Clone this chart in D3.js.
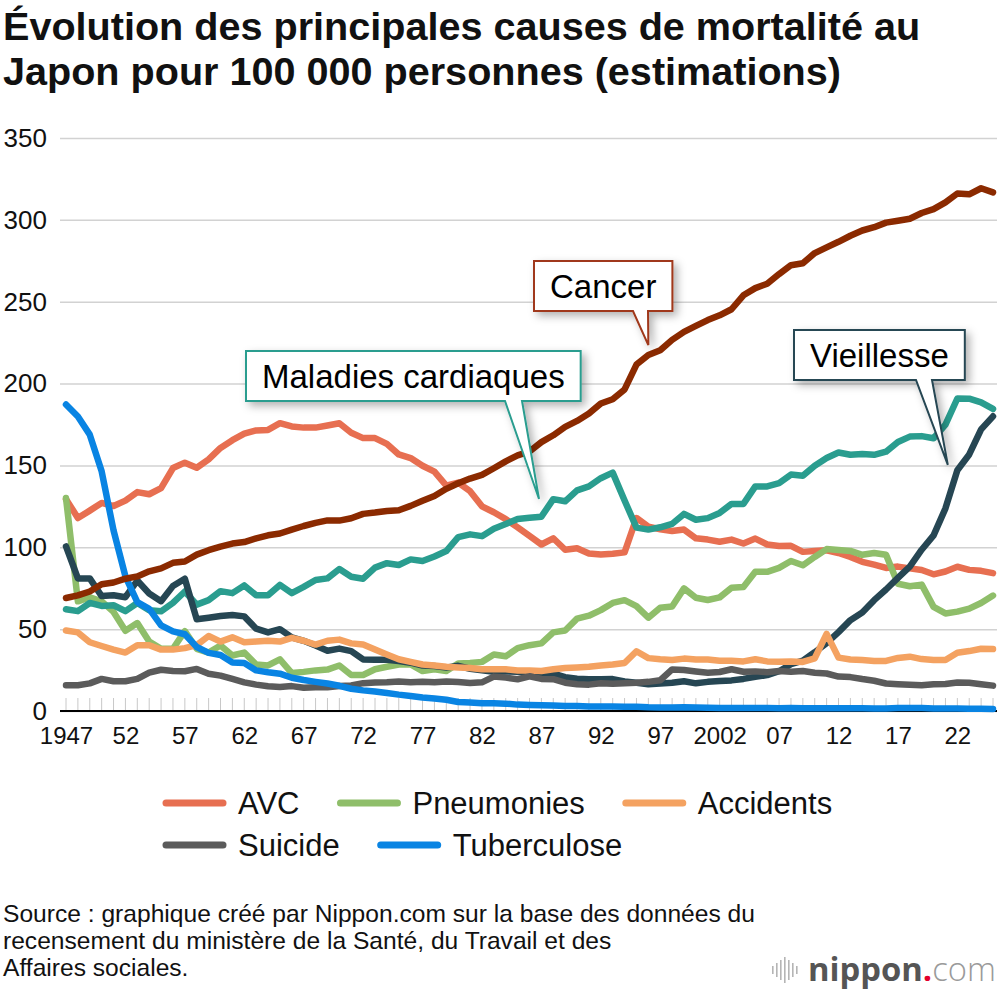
<!DOCTYPE html>
<html>
<head>
<meta charset="utf-8">
<script src="https://cdn.jsdelivr.net/npm/d3@7/dist/d3.min.js"></script>
<style>
  body { margin: 0; background: #fff; }
  svg { font-family: "Liberation Sans", Arial, Helvetica, sans-serif; }
</style>
</head>
<body>
<svg width="1000" height="990"></svg>
<script>
// data: rate per 100 000 people, 1947 -> 2025 (last year = estimate)
const years = d3.range(1947, 2026);

const cancer = [69.0, 70.6, 73.0, 77.4, 78.5, 80.8, 82.2, 85.3, 87.1, 90.5,
  91.3, 95.5, 98.2, 100.4, 102.3, 103.2, 105.5, 107.3, 108.4, 110.8,
  113.0, 114.9, 116.4, 116.3, 117.7, 120.4, 121.2, 122.2, 122.6, 125.3,
  128.4, 131.3, 135.7, 139.1, 142.0, 144.2, 148.3, 152.5, 156.1, 158.5,
  164.2, 168.4, 173.6, 177.2, 181.7, 187.8, 190.4, 196.4, 211.6, 217.5,
  220.4, 226.7, 231.6, 235.2, 238.8, 241.7, 245.4, 253.9, 258.3, 261.0,
  266.9, 272.3, 273.5, 279.7, 283.2, 286.6, 290.3, 293.5, 295.5, 298.3,
  299.5, 300.7, 304.2, 306.6, 310.7, 316.1, 315.6, 319.3, 316.8];

const heart = [62.2, 61.0, 66.0, 64.2, 64.6, 61.0, 66.0, 61.6, 60.9, 66.0,
  73.0, 65.0, 67.7, 73.2, 72.0, 76.7, 70.7, 70.7, 77.0, 72.0,
  75.8, 80.0, 81.0, 86.7, 82.0, 80.8, 87.6, 90.3, 89.2, 92.6,
  91.6, 94.4, 97.7, 106.2, 107.9, 106.8, 111.3, 114.2, 117.3, 118.0,
  118.7, 129.4, 128.1, 134.8, 137.2, 142.2, 145.6, 128.6, 112.0, 110.8,
  112.2, 114.3, 120.4, 116.8, 117.8, 121.0, 126.5, 126.5, 137.2, 137.2,
  139.2, 144.4, 143.7, 149.8, 154.5, 157.9, 156.5, 157.0, 156.5, 158.4,
  164.3, 167.6, 167.9, 166.6, 174.9, 190.9, 190.8, 188.5, 184.5];

const oldAge = [100.5, 81.0, 81.0, 70.2, 70.7, 69.5, 79.7, 71.8, 67.1, 76.3,
  80.8, 56.0, 57.0, 58.0, 58.7, 57.8, 50.3, 48.0, 50.0, 45.0,
  42.9, 40.0, 36.8, 38.1, 36.6, 31.5, 31.3, 31.3, 30.5, 29.5,
  27.8, 27.5, 26.5, 27.6, 25.8, 24.9, 24.0, 24.1, 24.0, 23.5,
  22.0, 22.8, 20.7, 19.7, 19.4, 19.4, 19.5, 18.0, 17.2, 16.4,
  16.8, 17.2, 18.2, 16.9, 17.8, 18.3, 18.7, 19.6, 20.9, 21.9,
  24.3, 28.6, 30.7, 35.9, 41.4, 48.2, 55.5, 60.1, 67.7, 74.2,
  81.3, 88.2, 98.5, 107.3, 123.8, 147.1, 156.7, 172.0, 180.0];

const avc = [129.4, 117.9, 122.4, 127.1, 125.2, 128.5, 133.7, 132.4, 136.1, 148.4,
  151.7, 148.6, 153.7, 160.7, 165.4, 169.4, 171.4, 171.7, 175.8, 173.8,
  173.1, 173.1, 174.4, 175.8, 170.0, 166.7, 166.7, 163.2, 156.7, 154.5,
  149.8, 146.2, 137.7, 139.5, 134.3, 125.0, 121.4, 117.2, 112.2, 106.9,
  101.7, 105.5, 98.5, 99.4, 96.2, 95.6, 96.0, 96.9, 117.9, 112.6,
  111.0, 110.0, 110.8, 105.5, 104.7, 103.4, 104.7, 102.3, 105.3, 101.7,
  100.8, 100.9, 97.2, 97.7, 98.2, 96.5, 94.1, 91.1, 89.4, 87.4,
  88.2, 87.1, 86.1, 83.5, 85.2, 88.1, 86.2, 85.6, 84.2];

const pneumonia = [130.1, 67.0, 69.5, 67.0, 60.5, 49.0, 53.7, 42.4, 38.0, 38.0,
  48.8, 38.0, 35.7, 40.0, 33.9, 35.7, 28.4, 27.8, 31.6, 23.2,
  23.9, 24.8, 25.3, 27.8, 22.0, 22.0, 25.5, 27.0, 28.4, 28.4,
  24.4, 25.5, 24.4, 29.0, 29.3, 30.0, 34.5, 33.4, 38.4, 40.2,
  41.3, 48.0, 49.2, 56.4, 58.2, 61.6, 66.0, 67.7, 64.1, 57.0,
  63.1, 63.8, 74.9, 69.2, 67.8, 69.4, 75.3, 75.7, 85.0, 85.0,
  87.4, 91.6, 89.0, 94.1, 98.9, 98.4, 97.8, 95.4, 96.5, 95.4,
  77.7, 76.2, 77.2, 63.6, 59.6, 60.7, 62.5, 66.0, 70.5];

const accidents = [49.2, 48.0, 42.0, 39.7, 37.5, 35.7, 40.2, 40.2, 37.5, 37.5,
  38.4, 40.2, 45.8, 42.4, 45.0, 42.0, 42.4, 42.9, 42.4, 44.7,
  42.9, 40.6, 42.9, 43.6, 41.3, 40.6, 37.5, 34.5, 31.6, 30.0,
  28.4, 27.8, 27.0, 26.6, 26.2, 25.5, 25.5, 25.5, 24.8, 24.8,
  24.4, 25.5, 26.2, 26.6, 27.0, 27.8, 28.4, 29.3, 36.5, 32.3,
  31.6, 31.1, 32.0, 31.4, 31.4, 30.7, 30.7, 30.3, 31.6, 30.3,
  30.1, 30.3, 30.0, 32.2, 47.1, 32.6, 31.5, 31.1, 30.6, 30.6,
  32.4, 33.2, 31.7, 31.2, 31.2, 35.6, 36.6, 38.0, 37.8];

const suicide = [15.7, 15.7, 16.9, 19.6, 18.2, 18.2, 19.6, 23.4, 25.2, 24.5,
  24.3, 25.7, 22.7, 21.6, 19.6, 17.5, 16.1, 15.1, 14.7, 15.2,
  14.2, 14.5, 14.5, 15.3, 15.6, 17.0, 17.4, 17.5, 18.0, 17.6,
  17.9, 17.6, 18.0, 17.7, 17.1, 17.5, 21.0, 20.4, 19.4, 21.2,
  19.6, 19.4, 17.3, 16.4, 16.1, 16.9, 16.6, 16.9, 17.2, 17.8,
  18.8, 25.4, 25.0, 24.1, 23.3, 23.8, 25.5, 24.0, 24.2, 23.7,
  24.4, 24.0, 24.4, 23.4, 22.9, 21.0, 20.7, 19.5, 18.5, 16.8,
  16.4, 16.1, 15.7, 16.4, 16.5, 17.4, 17.3, 16.4, 15.5];

const tuberculosis = [187.2, 179.9, 168.8, 146.4, 110.3, 82.2, 66.5, 62.4, 52.3, 48.6,
  46.9, 39.1, 35.5, 34.2, 29.6, 29.3, 24.8, 23.7, 22.8, 20.3,
  18.9, 17.8, 16.8, 15.4, 13.6, 12.6, 11.9, 11.0, 10.0, 9.2,
  8.3, 7.6, 6.9, 5.5, 5.2, 4.8, 4.7, 4.5, 3.9, 3.7,
  3.5, 3.3, 3.1, 3.0, 2.8, 2.8, 2.7, 2.6, 2.6, 2.3,
  2.2, 2.2, 2.3, 2.1, 2.0, 1.8, 1.9, 1.8, 1.8, 1.8,
  1.7, 1.8, 1.7, 1.7, 1.7, 1.7, 1.7, 1.7, 1.5, 1.5,
  1.8, 1.8, 1.8, 1.5, 1.5, 1.5, 1.3, 1.3, 1.2];

// axis labels
const xTickYears = [1947, 1952, 1957, 1962, 1967, 1972, 1977, 1982, 1987, 1992, 1997, 2002, 2007, 2012, 2017, 2022];
const yTicks = [0, 50, 100, 150, 200, 250, 300, 350];

// series table (draw order = back to front)
const series = [
  { name: 'AVC', values: avc, color: '#e76f51' },
  { name: 'Pneumonies', values: pneumonia, color: '#8fbe6a' },
  { name: 'Maladies cardiaques', values: heart, color: '#2a9d8f' },
  { name: 'Vieillesse', values: oldAge, color: '#264653' },
  { name: 'Accidents', values: accidents, color: '#f4a261' },
  { name: 'Suicide', values: suicide, color: '#5b5b5b' },
  { name: 'Tuberculose', values: tuberculosis, color: '#0984e3' },
  { name: 'Cancer', values: cancer, color: '#8b2a00' }
];

const legendRows = [['AVC', 'Pneumonies', 'Accidents'], ['Suicide', 'Tuberculose']];

// callouts: tip given in data units, box in pixels
const callouts = [
  { label: 'Cancer', color: '#a0381a', year: 1996.0, value: 223.5, x0: 534, y0: 261, base: [633, 648] },
  { label: 'Maladies cardiaques', color: '#2a9d8f', year: 1986.8, value: 129.5, x0: 246, y0: 351, base: [505, 522] },
  { label: 'Vieillesse', color: '#264653', year: 2021.2, value: 150.3, x0: 794, y0: 330, base: [916, 932] }
];

const svg = d3.select('svg');
const colorOf = name => series.find(s => s.name === name).color;

// scales
const xScale = d3.scaleLinear().domain([1947, 2025]).range([66, 993]);
const yScale = d3.scaleLinear().domain([0, 350]).range([711, 138]);

// shadow for callout boxes
const defs = svg.append('defs');
defs.append('filter')
    .attr('id', 'shadow')
    .attr('x', '-10%').attr('y', '-20%').attr('width', '130%').attr('height', '160%')
  .append('feDropShadow')
    .attr('dx', 4).attr('dy', 4).attr('stdDeviation', 4)
    .attr('flood-color', '#000').attr('flood-opacity', 0.3);

// TITLE
const titleLines = ['Évolution des principales causes de mortalité au', 'Japon pour 100 000 personnes (estimations)'];
svg.append('g')
  .selectAll('text')
  .data(titleLines)
  .enter()
  .append('text')
    .attr('x', 3)
    .attr('y', (d, i) => 40 + i * 45)
    .attr('font-size', 39.6)
    .attr('font-weight', 700)
    .attr('fill', '#111')
    .text(d => d);

// y grid + labels
const yAxis = d3.axisLeft(yScale)
    .tickValues(yTicks)
    .tickSize(-937)
    .tickPadding(14);

const gy = svg.append('g')
    .attr('transform', 'translate(60,0)')
    .call(yAxis);
gy.select('.domain').remove();
gy.selectAll('.tick line').attr('stroke', '#d2d2d2').attr('stroke-width', 1.5);
gy.selectAll('.tick text')
    .attr('fill', '#111')
    .attr('font-size', 26)
    .attr('x', -13)
    .attr('font-family', '"Liberation Sans", Arial, sans-serif');

// yearly tick marks
svg.append('g')
  .selectAll('line')
  .data(years)
  .enter()
  .append('line')
    .attr('x1', d => xScale(d)).attr('x2', d => xScale(d))
    .attr('y1', yScale(0) - 13).attr('y2', yScale(0))
    .attr('stroke', '#c8c8c8').attr('stroke-width', 1);

// x axis
const xAxis = d3.axisBottom(xScale)
    .tickValues(xTickYears)
    .tickSize(0)
    .tickPadding(16)
    .tickFormat(d => (d === 1947 || d === 2002) ? String(d) : String(d).slice(2));

const gx = svg.append('g')
    .attr('transform', `translate(0,${yScale(0)})`)
    .call(xAxis);
gx.select('.domain').remove();
gx.selectAll('.tick text')
    .attr('fill', '#111')
    .attr('font-size', 24)
    .attr('font-family', '"Liberation Sans", Arial, sans-serif');

svg.append('line')
    .attr('x1', 60).attr('x2', 997)
    .attr('y1', yScale(0)).attr('y2', yScale(0))
    .attr('stroke', '#000').attr('stroke-width', 2);

// LINES
const line = d3.line()
    .x((d, i) => xScale(years[i]))
    .y(d => yScale(d));

svg.append('g')
  .selectAll('path')
  .data(series)
  .enter()
  .append('path')
    .attr('d', d => line(d.values))
    .attr('fill', 'none')
    .attr('stroke', d => d.color)
    .attr('stroke-width', 6.5)
    .attr('stroke-linejoin', 'round')
    .attr('stroke-linecap', 'round');

// CALLOUTS
callouts.forEach(c => {
  const g = svg.append('g');
  const txt = g.append('text')
      .attr('font-size', 33)
      .attr('fill', '#000')
      .text(c.label);
  const w = txt.node().getComputedTextLength() + 32;
  const h = 50;
  const x1 = c.x0 + w, y1 = c.y0 + h;
  const tx = xScale(c.year), ty = yScale(c.value);
  const p = `M${c.x0},${c.y0}H${x1}V${y1}H${c.base[1]}L${tx},${ty}L${c.base[0]},${y1}H${c.x0}Z`;
  g.insert('path', 'text')
      .attr('d', p)
      .attr('fill', '#fff')
      .attr('stroke', c.color)
      .attr('stroke-width', 2)
      .attr('filter', 'url(#shadow)');
  txt.attr('x', c.x0 + 16).attr('y', c.y0 + h / 2 + 11.5);
});

// LEGEND
legendRows.forEach((row, r) => {
  let x = 163;
  const y = 803 + r * 42;
  row.forEach(name => {
    svg.append('line')
        .attr('x1', x + 3).attr('x2', x + 60)
        .attr('y1', y).attr('y2', y)
        .attr('stroke', colorOf(name))
        .attr('stroke-width', 7)
        .attr('stroke-linecap', 'round');
    const t = svg.append('text')
        .attr('x', x + 75).attr('y', y + 10.5)
        .attr('font-size', 31).attr('fill', '#111')
        .text(name);
    x += 75 + t.node().getComputedTextLength() + 38;
  });
});

// SOURCE
const sourceLines = [
  'Source : graphique créé par Nippon.com sur la base des données du',
  'recensement du ministère de la Santé, du Travail et des',
  'Affaires sociales.'
];
svg.append('g')
  .selectAll('text')
  .data(sourceLines)
  .enter()
  .append('text')
    .attr('x', 3)
    .attr('y', (d, i) => 922 + i * 27)
    .attr('font-size', 24.6)
    .attr('fill', '#111')
    .text(d => d);

// nippon.com logo (bars + wordmark squeezed into the corner)
const logo = svg.append('g').attr('transform', 'translate(772,955)');
[8, 14, 20, 26, 20, 14, 8].forEach((h, i) => {
  logo.append('rect')
      .attr('x', i * 4).attr('y', 15 - h / 2)
      .attr('width', 1.6).attr('height', h)
      .attr('fill', '#b5b5b5');
});
const lt = logo.append('text')
    .attr('x', 36).attr('y', 26)
    .attr('font-size', 36)
    .attr('font-family', '"Open Sans", "Liberation Sans", sans-serif');
lt.append('tspan').attr('font-weight', 700).attr('fill', '#555').text('nippon');
lt.append('tspan').attr('font-weight', 700).attr('fill', '#e3002b').text('.');
lt.append('tspan').attr('font-weight', 300).attr('fill', '#9a9a9a').text('com');
const logoW = lt.node().getComputedTextLength();
lt.attr('font-size', 36 * 188 / logoW);
</script>
</body>
</html>
